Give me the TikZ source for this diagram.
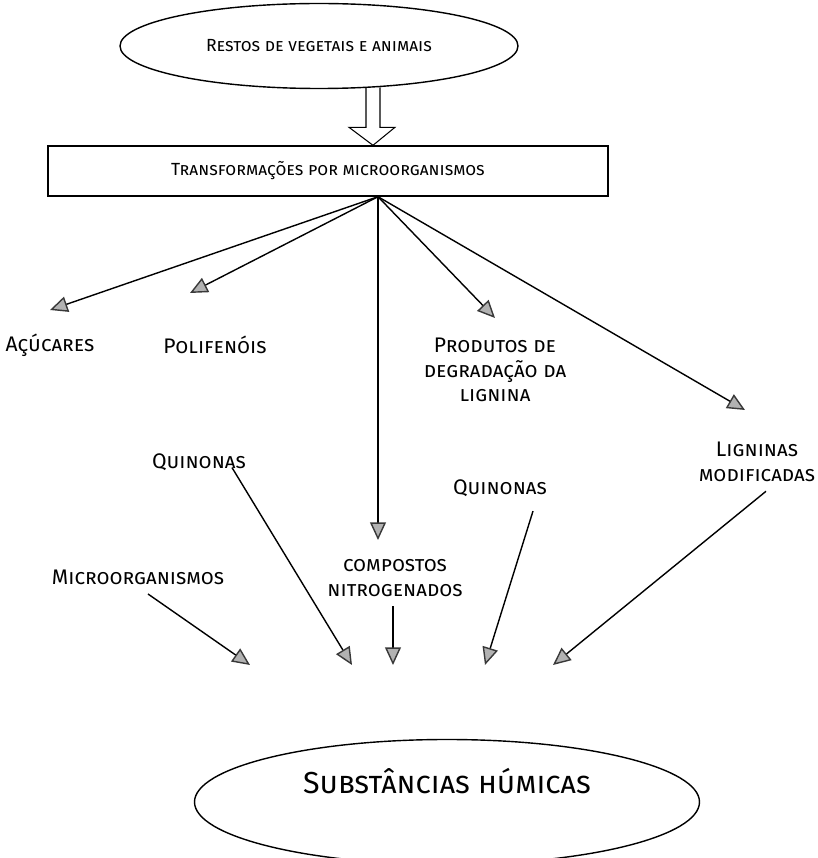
\documentclass[tikz,border=0pt]{standalone}
\usepackage{fontspec}
\setmainfont{Fira Sans}
\usetikzlibrary{arrows.meta,positioning,shapes.geometric,calc}

\begin{document}
\begin{tikzpicture}[
    lbl/.style={font=\scshape\large, align=center, inner sep=1pt},
    oval/.style={ellipse, draw, thick, inner sep=0pt},
    arr/.style={-{Triangle[length=10pt, width=9pt, fill=gray!60, color=gray!45!black]}, line width=0.8pt}
  ]
  \useasboundingbox (0,0) rectangle (16.36,17.16);

  %% ---- Top: residues and transformation ----
  \node[oval, minimum width=7.96cm, minimum height=1.70cm, font=\scshape] (rest) at (6.38,16.24) {Restos de vegetais e animais};
  \node[draw, thick, minimum width=11.2cm, minimum height=1.0cm, font=\scshape] (transf) at (6.56,13.74) {Transformações por microorganismos};

  %% Double (hollow) arrow
  \coordinate (dtip) at ($(transf.north)+(0.90,0)$);
  \draw[semithick] ($(dtip)+(-0.14,1.16)$) -- ++(0,-0.80) -- ++(-0.34,0)
    -- (dtip) -- ++(0.44,0.36) -- ++(-0.30,0) -- ++(0,0.80);

  %% Products of the transformation
  \node[lbl] (acu)  at (1.00,10.26) {Açúcares};
  \node[lbl] (pol)  at (4.30,10.26) {Polifenóis};
  \node[lbl] (prod) at (9.90,9.76)  {Produtos de\\degradação da\\lignina};
  \node[lbl] (lig)  at (15.14,7.92) {Ligninas\\modificadas};
  \node[lbl] (qui1) at (3.98,7.92)  {Quinonas};
  \node[lbl] (qui2) at (10.00,7.40) {Quinonas};
  \node[lbl] (mic)  at (2.76,5.62)  {Microorganismos};
  \node[lbl] (comp) at (7.90,5.60)  {compostos\\nitrogenados};

  %% Fan out from the box
  \coordinate (fan) at ($(transf.south)+(1.0,0)$);
  \coordinate (tacu)  at (1.00,10.96);
  \coordinate (tpol)  at (3.80,11.30);
  \coordinate (tcomp) at (7.56,6.36);
  \coordinate (tprod) at (9.90,10.80);
  \coordinate (tlig)  at (14.90,8.96);
  \foreach \t in {tacu, tpol, tcomp, tprod, tlig}{
    \draw[arr] (fan) -- (\t);
  }

  %% ---- Bottom: humic substances ----
  \node[oval, minimum width=10.1cm, minimum height=2.50cm, font=\scshape\LARGE,
        text height=0.50cm, text depth=0.85cm] (hum) at (8.94,1.12) {Substâncias húmicas};

  \draw[arr] ($(mic.south)+(0.20,-0.15)$)   -- (5.00,3.86);
  \draw[arr] ($(qui1.south)+(0.66,0.10)$)   -- (7.04,3.86);
  \draw[arr] ($(comp.south)+(-0.04,-0.15)$) -- (7.86,3.86);
  \draw[arr] ($(qui2.south)+(0.66,-0.25)$)  -- (9.70,3.86);
  \draw[arr] ($(lig.south)+(0.18,-0.15)$)   -- (11.06,3.86);

\end{tikzpicture}
\end{document}
